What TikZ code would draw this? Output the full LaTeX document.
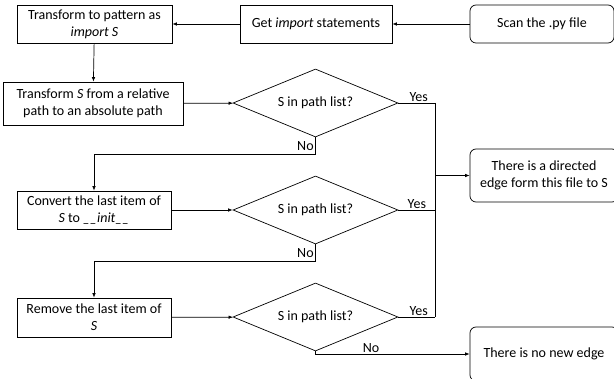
\documentclass[tikz,border=0pt]{standalone}
\usepackage{fontspec}
\setmainfont{Carlito}
\usetikzlibrary{arrows.meta,positioning,shapes.geometric}

\begin{document}
\begin{tikzpicture}[x=1pt,y=-1pt,line width=0.7pt,
  font=\fontsize{14}{17}\selectfont,
  proc/.style={draw,rectangle,align=center,inner sep=1pt,minimum height=38pt},
  term/.style={draw,rectangle,rounded corners=6pt,align=center,inner sep=1pt},
  dec/.style={draw,diamond,aspect=2.4,inner sep=0pt,minimum width=165pt,minimum height=68pt},
  lbl/.style={inner sep=1.5pt},
  ar/.style={-{Latex[length=4.5pt,width=3.5pt]}}]
\useasboundingbox (0,0) rectangle (614,379);
% top row, right to left
\node[term,minimum width=144pt,minimum height=38pt] (scan) at (542,24) {Scan the .py file};
\node[proc,minimum width=152pt] (getimp) at (316,24) {Get \textit{import} statements};
\node[proc,minimum width=155pt] (pat) at (94.5,24) {Transform to pattern as\\\textit{import S}};
% left column
\node[proc,minimum width=180pt,minimum height=43pt] (rel) at (93,103.5) {Transform \textit{S} from a relative\\path to an absolute path};
\node[proc,minimum width=154pt] (conv) at (94,210) {Convert the last item of\\\textit{S} to \textit{\_\_init\_\_}};
\node[proc,minimum width=154pt,minimum height=39pt] (rem) at (94,317.5) {Remove the last item of\\\textit{S}};
% checks
\node[dec] (d1) at (315.5,103) {S in path list?};
\node[dec] (d2) at (315.5,210) {S in path list?};
\node[dec] (d3) at (315.5,317) {S in path list?};
% results
\node[term,minimum width=148pt,minimum height=53pt] (edge) at (544,175.5) {There is a directed\\edge form this file to S};
\node[term,minimum width=148pt,minimum height=54pt] (nonew) at (544,354) {There is no new edge};

\draw[ar] (scan) -- (getimp);
\draw[ar] (getimp) -- (pat);
\draw[ar] (pat) -- (rel);
\foreach \x/\y in {rel/d1,conv/d2,rem/d3} \draw[ar] (\x) -- (\y);
% yes branches
\draw (d1.east) -- ++(37,0) coordinate (y1) node[lbl,above,pos=0.55] {Yes};
\draw (d2.east) -- ++(37,0) coordinate (y2) node[lbl,above,pos=0.5] {Yes};
\draw (d3.east) -- ++(37,0) coordinate (y3) node[lbl,above,pos=0.55] {Yes};
\draw (y1) -- (y3);
\draw[ar] (y1 |- edge.west) -- (edge.west);
% no branches
\draw[ar] (d1.south) -- ++(0,17) node[lbl,left,midway] {No} -| (conv.north);
\draw[ar] (d2.south) -- ++(0,17) node[lbl,left,midway] {No} -| (rem.north);
\draw[ar] (d3.south) |- (nonew.west) node[lbl,above,pos=0.68] {No};
\end{tikzpicture}
\end{document}
